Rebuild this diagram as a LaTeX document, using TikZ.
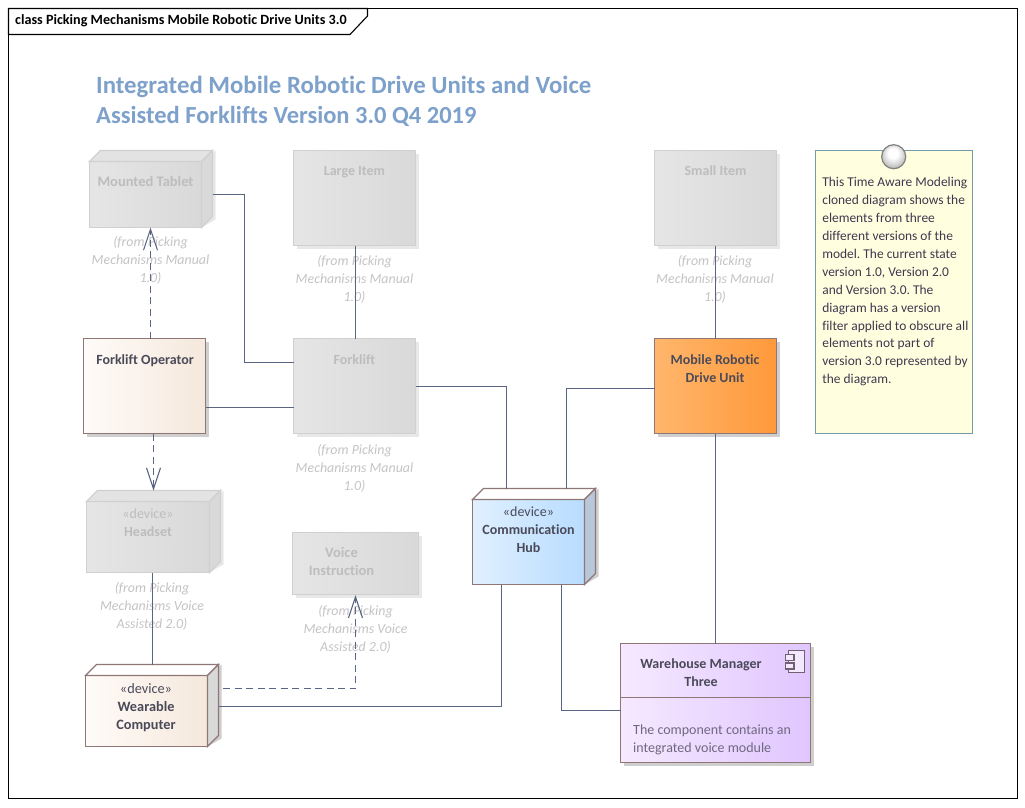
\documentclass[tikz,border=0pt]{standalone}
\usepackage{fontspec}
\setmainfont{Carlito}[RawFeature={-liga;-clig}]
\usetikzlibrary{arrows.meta,calc}
\frenchspacing
\definecolor{conn}{HTML}{5A6583}
\definecolor{ghostedge}{HTML}{D0D0D0}
\definecolor{ghostshadow}{HTML}{E8E8E8}
\definecolor{ghosttext}{HTML}{BDBDBD}
\definecolor{fromtext}{HTML}{C6C3C5}
\definecolor{realedge}{HTML}{8F7677}
\definecolor{realshadow}{HTML}{CFCFCF}
\definecolor{realtext}{HTML}{4A4A58}
\definecolor{titleblue}{HTML}{7DA1CB}
\definecolor{creamL}{HTML}{FFFBF8}
\definecolor{creamR}{HTML}{F5E8DC}
\pgfdeclareradialshading{pinball}{\pgfpoint{-2bp}{9bp}}{color(0bp)=(white);color(10bp)=(white);color(22bp)=(black!18);color(34bp)=(black!40);color(50bp)=(black!45)}
\tikzset{
  boxbase/.style={rectangle,inner sep=0pt,outer sep=0pt,anchor=north west,line width=1.2pt},
  ghostbox/.style={boxbase,draw=ghostedge,left color=black!10,right color=black!15,text=ghosttext},
  creambox/.style={boxbase,draw=realedge,left color=creamL,right color=creamR,text=realtext},
  orangebox/.style={boxbase,draw=realedge,left color={rgb,255:red,255;green,182;blue,108},right color={rgb,255:red,255;green,153;blue,58},text=realtext},
  bluebox/.style={boxbase,draw=realedge,left color={rgb,255:red,224;green,240;blue,255},right color={rgb,255:red,184;green,220;blue,255},text=realtext},
  purplebox/.style={boxbase,draw=realedge,left color={rgb,255:red,246;green,233;blue,255},right color={rgb,255:red,224;green,198;blue,255},text=realtext},
  notebox/.style={boxbase,draw={rgb,255:red,116;green,155;blue,168},fill={rgb,255:red,255;green,255;blue,224},text={rgb,255:red,62;green,56;blue,78}},
  fromlabel/.style={align=center,inner sep=0pt,text=fromtext,font=\fontsize{13.9}{18}\selectfont\itshape},
  wire/.style={draw=conn,line width=1.05pt},
  depwire/.style={wire,dash pattern=on 7pt off 4.5pt,-{Straight Barb[length=21pt,width=14pt,line width=1.1pt]}},
}
\newlength{\bw}\newlength{\bh}
% name x1 y1 x2 y2 style shadowcolour text
\newcommand{\boxat}[8]{%
  \pgfmathsetlength{\bw}{#4-#2}\pgfmathsetlength{\bh}{#5-#3}%
  \fill[#7] (#2+3,#3+3) rectangle (#4+3,#5+3);
  \node[#6] (#1) at (#2,#3) {#8};
}
% front node with top and side faces: name depth topcolour sidecolour edge shadow
\newcommand{\depthof}[6]{%
  \fill[#6] let \p1=(#1.north east),\p2=(#1.south east) in (\x1,\y1) -- ++(#2pt+3pt,#2pt) -- ($(\x2,\y2)+(#2pt+3pt,#2pt-3pt)$) -- (\x2,\y2) -- cycle;
  \filldraw[fill=#3,draw=#5,line width=1.2pt] (#1.north west) -- ++(#2pt,#2pt) -- ($(#1.north east)+(#2pt,#2pt)$) -- (#1.north east) -- cycle;
  \filldraw[fill=#4,draw=#5,line width=1.2pt] (#1.north east) -- ++(#2pt,#2pt) -- ($(#1.south east)+(#2pt,#2pt)$) -- (#1.south east) -- cycle;
}
\newcommand{\lbl}[4]{% top-skip, dx, font, text
  \parbox[t][\bh][t]{\bw}{\fontsize{#3}{18}\selectfont\vspace*{#1pt}\centering\leftskip=\dimexpr2\dimexpr#2pt\relax\relax plus 1fil\relax #4\par}}
\newcommand{\dev}{{\fontseries{m}\selectfont «device»}}
\begin{document}
\begin{tikzpicture}[x=1pt,y=-1pt]
\useasboundingbox (0,0) rectangle (1025,807);
\fill[white] (0,0) rectangle (1025,807);
% frame
\node[boxbase,draw=black,line width=1.1pt,minimum width=1009pt,minimum height=790pt] (frame) at (8.5,8.5) {};
\draw[black,line width=1.1pt,fill=white] (frame.north west) -- ++(359,0) -- ++(0,7.5) -- ++(-17.5,18.5) -- ($(frame.north west)+(0,26)$) -- cycle;
\node[anchor=base west,inner sep=0pt,font=\fontsize{14.13}{18}\selectfont\bfseries,text=black] (frametitle) at (15,24.7) {class Picking Mechanisms Mobile Robotic Drive Units 3.0};
% title
\node[anchor=north west,inner sep=0pt,align=left,text=titleblue,font=\fontsize{24.8}{30}\selectfont\bfseries] (title) at (96,72.7) {\strut Integrated Mobile Robotic Drive Units and Voice\\{\fontsize{24.5}{30}\selectfont Assisted Forklifts Version 3.0 Q4 2019}};

% ghost elements
\boxat{tablet}{89.5}{161.5}{201.5}{227.5}{ghostbox}{white}{\lbl{12}{0}{14.5}{\strut\bfseries Mounted Tablet}}
\depthof{tablet}{11}{black!11}{black!15}{ghostedge}{ghostshadow}
\boxat{large}{293.5}{150.5}{415.5}{245.5}{ghostbox}{ghostshadow}{\lbl{12}{0}{14}{\strut\bfseries Large Item}}
\boxat{small}{654.5}{150.5}{776.5}{245.5}{ghostbox}{ghostshadow}{\lbl{12}{0}{14}{\strut\bfseries Small Item}}
\boxat{forklift}{293.5}{338.5}{415.5}{433.5}{ghostbox}{ghostshadow}{\lbl{13.2}{0}{14}{\strut\bfseries Forklift}}
\boxat{headset}{86.5}{501.5}{209.5}{572.5}{ghostbox}{white}{\lbl{4}{0}{14}{\strut\dev\\\bfseries Headset}}
\depthof{headset}{11}{black!11}{black!15}{ghostedge}{ghostshadow}
\boxat{voice}{292.5}{532.5}{418.5}{594.5}{ghostbox}{ghostshadow}{\lbl{12}{-14}{14.5}{\strut\bfseries Voice\\Instruction}}

% from labels
\node[fromlabel,anchor=north] (fromA) at (150.5,236.5) {(from Picking\\Mechanisms Manual\\1.0)};
\node[fromlabel,anchor=north] (fromB) at (354.5,255.5) {(from Picking\\Mechanisms Manual\\1.0)};
\node[fromlabel,anchor=north] (fromC) at (715,255.5) {(from Picking\\Mechanisms Manual\\1.0)};
\node[fromlabel,anchor=north] (fromD) at (354.5,444.5) {(from Picking\\Mechanisms Manual\\1.0)};
\node[fromlabel,anchor=north] (fromE) at (152,582.5) {(from Picking\\Mechanisms Voice\\Assisted 2.0)};
\node[fromlabel,anchor=north] (fromF) at (355.5,605.5) {(from Picking\\Mechanisms Voice\\Assisted 2.0)};

% real elements
\boxat{operator}{83.5}{338.5}{205.5}{433.5}{creambox}{realshadow}{\lbl{13.2}{0.5}{14}{\strut\bfseries Forklift Operator}}
\boxat{mobile}{654.5}{338.5}{776.5}{433.5}{orangebox}{realshadow}{\lbl{13.2}{-0.5}{14}{\strut\bfseries Mobile Robotic\\Drive Unit}}
\boxat{wearable}{85.5}{675.5}{207.5}{746.5}{creambox}{white}{\lbl{4.9}{-0.5}{14.3}{\strut\dev\\\bfseries Wearable\\Computer}}
\depthof{wearable}{11}{white}{black!15}{realedge}{realshadow}
\boxat{hub}{472.5}{499.5}{584.5}{584.5}{bluebox}{white}{\lbl{4.6}{0}{14}{\strut\dev\\\bfseries Communication\\Hub}}
\depthof{hub}{11}{white}{{rgb,255:red,184;green,200;blue,218}}{realedge}{realshadow}
\boxat{manager}{620.5}{643.5}{810.5}{762.5}{purplebox}{realshadow}{\lbl{12.2}{-14.5}{14}{\strut\bfseries Warehouse Manager\\Three}}
\draw[realedge,line width=1.2pt] ($(manager.west)+(0,-5.5)$) coordinate (mgrdivL) -- (mgrdivL -| manager.east);
\node[anchor=north west,inner sep=0pt,align=left,font=\fontsize{14}{18}\selectfont,text={rgb,255:red,112;green,104;blue,128}] (managertext) at (633,721.4) {\strut The component contains an\\integrated voice module};
\filldraw[fill={rgb,255:red,244;green,232;blue,255},draw={rgb,255:red,112;green,96;blue,112},line width=1.1pt] ($(manager.north east)+(-22,7)$) coordinate (ic) rectangle ++(16,22);
\filldraw[fill={rgb,255:red,244;green,232;blue,255},draw={rgb,255:red,112;green,96;blue,112},line width=1.1pt] ($(ic)+(-3,4)$) rectangle ++(8.5,6);
\filldraw[fill={rgb,255:red,244;green,232;blue,255},draw={rgb,255:red,112;green,96;blue,112},line width=1.1pt] ($(ic)+(-3,12.5)$) rectangle ++(8.5,6);

% note
\boxat{note}{815.5}{150.5}{972.5}{433.5}{notebox}{white}{\parbox[t][\bh][t]{\bw}{\fontsize{13.45}{17.9}\selectfont\vspace*{23.8pt}\leftskip=6.8pt\rightskip=0pt plus 1fil\parindent=0pt\strut This Time Aware Modeling\\cloned diagram shows the\\elements from three\\different versions of the\\model. The current state\\version 1.0, Version 2.0\\and Version 3.0. The\\diagram has a version\\filter applied to obscure all\\elements not part of\\version 3.0 represented by\\the diagram.\par}}
\node[circle,draw=black!50,line width=1.2pt,minimum size=24pt,inner sep=0pt,shading=pinball] (pin) at (893.7,156.7) {};

% connectors
\draw[wire] ($(tablet.east)+(11,0)$) -- ++(32,0) |- ($(forklift.north west)+(0,24)$);
\draw[wire] ($(operator.north east)+(0,69)$) -- ($(forklift.north west)+(0,69)$);
\draw[wire] ($(large.south west)+(62,0)$) -- ($(forklift.north west)+(62,0)$);
\draw[wire] ($(forklift.north east)+(0,48)$) -| ($(hub.north west)+(34,-11)$);
\draw[wire] ($(hub.north west)+(94,-11)$) |- ($(mobile.north west)+(0,50)$);
\draw[wire] (small.south) -- (mobile.north);
\draw[wire] (mobile.south) -- (manager.north);
\draw[wire] ($(headset.south west)+(66,0)$) -- ($(wearable.north west)+(67,-11)$);
\draw[wire] ($(wearable.north east)+(11,31)$) -| ($(hub.south west)+(29,0)$);
\draw[wire] ($(hub.south west)+(89,0)$) |- ($(manager.north west)+(0,67)$);
\draw[depwire] ($(operator.north west)+(67,0)$) -- ($(tablet.south west)+(61,0)$);
\draw[depwire] ($(operator.south west)+(70,0)$) -- ($(headset.north west)+(67,-11)$);
\draw[depwire] ($(wearable.north east)+(15.5,13)$) -| ($(voice.south west)+(63,0.7)$);
\end{tikzpicture}
\end{document}
